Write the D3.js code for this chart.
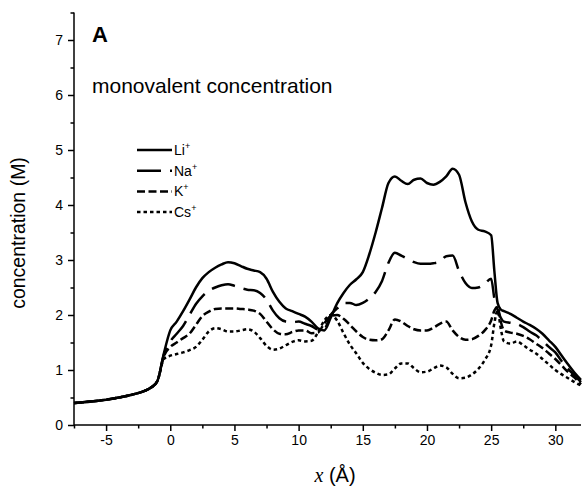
<!DOCTYPE html>
<html><head><meta charset="utf-8">
<script src="https://cdn.jsdelivr.net/npm/d3@7"></script>
<style>body{margin:0;background:#fff}svg{display:block}text{font-family:"Liberation Sans",Arial,sans-serif;fill:#000}</style>
</head><body><svg id="c" width="582" height="492"></svg>
<script>
const xs = [-7.5,-6,-5,-4,-3,-2,-1.5,-1,-0.5,0,0.5,1,1.5,2,2.5,3,3.5,4,4.5,5,5.5,6,6.5,7,7.5,8,8.5,9,9.5,10,10.5,11,11.5,12,12.5,13,13.5,14,14.5,15,15.5,16,16.5,17,17.5,18,18.5,19,19.5,20,20.5,21,21.5,22,22.5,23,23.5,24,24.5,25,25.25,25.5,25.75,26,26.5,27,27.5,28,28.5,29,29.5,30,30.5,31,31.5,32];
const li = [0.40,0.43,0.46,0.50,0.55,0.62,0.68,0.80,1.30,1.72,1.88,2.07,2.28,2.50,2.67,2.78,2.86,2.92,2.96,2.94,2.89,2.84,2.81,2.78,2.66,2.42,2.24,2.12,2.07,2.02,1.97,1.88,1.76,1.72,1.95,2.21,2.40,2.55,2.65,2.78,3.10,3.50,3.95,4.40,4.52,4.44,4.38,4.46,4.48,4.40,4.37,4.42,4.52,4.66,4.55,4.05,3.70,3.55,3.52,3.45,2.80,2.22,2.10,2.07,2.02,1.95,1.88,1.82,1.75,1.66,1.54,1.42,1.26,1.10,0.95,0.82];
const na = [0.40,0.43,0.46,0.50,0.55,0.62,0.68,0.80,1.28,1.52,1.66,1.80,2.00,2.20,2.34,2.44,2.50,2.54,2.56,2.53,2.49,2.46,2.45,2.40,2.28,2.08,1.94,1.88,1.87,1.88,1.84,1.80,1.74,1.75,2.00,2.12,2.22,2.22,2.18,2.22,2.30,2.42,2.62,2.95,3.13,3.08,3.02,2.96,2.93,2.93,2.94,2.97,3.07,3.08,2.80,2.58,2.49,2.50,2.57,2.66,2.30,2.10,1.95,1.88,1.86,1.84,1.78,1.70,1.63,1.53,1.42,1.32,1.16,1.02,0.90,0.78];
const k = [0.40,0.43,0.46,0.50,0.55,0.62,0.68,0.80,1.25,1.42,1.50,1.58,1.66,1.82,1.98,2.06,2.11,2.12,2.12,2.12,2.11,2.10,2.08,2.02,1.88,1.74,1.66,1.65,1.69,1.72,1.72,1.67,1.68,1.85,1.98,2.00,1.93,1.82,1.70,1.60,1.55,1.54,1.56,1.72,1.92,1.88,1.80,1.74,1.72,1.72,1.77,1.84,1.88,1.72,1.60,1.55,1.56,1.62,1.72,1.90,2.08,2.15,1.88,1.72,1.68,1.66,1.62,1.56,1.48,1.40,1.30,1.20,1.08,0.96,0.86,0.74];
const cs = [0.40,0.43,0.46,0.50,0.55,0.62,0.68,0.80,1.20,1.26,1.29,1.32,1.36,1.42,1.55,1.70,1.76,1.74,1.70,1.70,1.72,1.74,1.70,1.58,1.44,1.37,1.39,1.45,1.51,1.54,1.52,1.53,1.68,1.90,2.00,1.90,1.67,1.46,1.30,1.13,1.02,0.95,0.91,0.92,1.03,1.12,1.12,1.03,0.96,0.97,1.03,1.08,1.05,0.93,0.85,0.86,0.92,1.02,1.18,1.45,1.85,2.08,1.75,1.52,1.48,1.52,1.45,1.37,1.30,1.20,1.10,1.00,0.92,0.85,0.78,0.72];
const seriesNames = ["Li", "Na", "K", "Cs"];
const seriesValues = [li, na, k, cs];
const dashes = [null, "24,9", "8,3.5", "3.5,3"];
const xMajor = [-5,0,5,10,15,20,25,30];
const yMajor = [0,1,2,3,4,5,6,7];

const svg = d3.select("#c");
const x = d3.scaleLinear().domain([-7.5, 32]).range([74, 581]);
const y = d3.scaleLinear().domain([0, 7.5]).range([425, 12.5]);
const fmt = v => String(v);

// axes
const xMinor = d3.range(-7.5, 32.01, 2.5).filter(v => !xMajor.includes(v));
const yMinor = d3.range(0.5, 7.51, 1);
const gx = svg.append("g").attr("transform", "translate(0,425)");
gx.call(d3.axisBottom(x).tickValues(xMajor).tickSize(6).tickPadding(4).tickFormat(fmt));
gx.append("g").call(d3.axisBottom(x).tickValues(xMinor).tickSize(3.5).tickFormat(""));
const gy = svg.append("g").attr("transform", "translate(74,0)");
gy.call(d3.axisLeft(y).tickValues(yMajor).tickSize(6).tickPadding(5).tickFormat(fmt));
gy.append("g").call(d3.axisLeft(y).tickValues(yMinor).tickSize(3.5).tickFormat(""));
svg.selectAll(".domain").attr("stroke", "#000").attr("stroke-width", 1.5);
svg.selectAll(".tick line").attr("stroke", "#000").attr("stroke-width", 1.5);
svg.selectAll(".tick text").style("font-size", "14px").style("font-family", '"Liberation Sans",Arial,sans-serif');
gx.selectAll("path.domain").attr("d", `M${x(-7.5)},0H${x(32)}`);
gy.selectAll("path.domain").attr("d", `M0,${y(0)}V${y(7.5)}`);
gx.selectAll("g g path.domain").remove();
gy.selectAll("g g path.domain").remove();

// lines
const line = d3.line().x((d, i) => x(xs[i])).y(d => y(d)).curve(d3.curveMonotoneX);
seriesValues.forEach((vals, i) => {
  svg.append("path").attr("d", line(vals)).attr("fill", "none").attr("stroke", "#000")
    .attr("stroke-width", 2.5).attr("stroke-dasharray", dashes[i]).attr("stroke-linejoin", "round");
});

// legend
seriesNames.forEach((n, i) => {
  const yy = 150 + i * 20.7;
  svg.append("line").attr("x1", 137).attr("x2", 172).attr("y1", yy).attr("y2", yy)
    .attr("stroke", "#000").attr("stroke-width", 2.5).attr("stroke-dasharray", dashes[i]);
  const t = svg.append("text").attr("x", 174).attr("y", yy + 5).style("font-size", "14px");
  t.append("tspan").text(n);
  t.append("tspan").attr("dy", -6).style("font-size", "9px").text("+");
});

// texts
svg.append("text").attr("x", 92).attr("y", 42).style("font-size", "22px").style("font-weight", "bold").text("A");
svg.append("text").attr("x", 92).attr("y", 93).style("font-size", "21px").text("monovalent concentration");
svg.append("text").attr("transform", "translate(25,233) rotate(-90)").attr("text-anchor", "middle")
  .style("font-size", "19.5px").text("concentration (M)");
const xl = svg.append("text").attr("x", 335).attr("y", 482).attr("text-anchor", "middle").style("font-size", "20px");
xl.append("tspan").style("font-family", '"Liberation Serif","Times New Roman",serif').style("font-style", "italic").text("x");
xl.append("tspan").text("  (Å)");
</script></body></html>
